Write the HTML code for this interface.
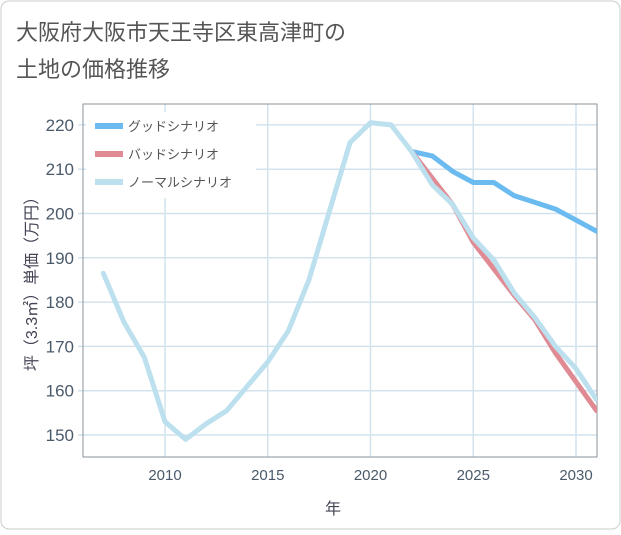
<!DOCTYPE html>
<html><head><meta charset="utf-8"><style>
body{margin:0;background:#fff;}
svg text{font-family:"Liberation Sans","Noto Sans CJK JP",sans-serif;}
</style></head><body>
<svg width="621" height="530" xmlns="http://www.w3.org/2000/svg">
<rect x="1" y="1" width="619" height="528" rx="8" fill="#fff" stroke="#ccc"/>
<text x="16" y="40" font-size="22" fill="#555">大阪府大阪市天王寺区東高津町の</text>
<text x="16" y="77" font-size="22" fill="#555">土地の価格推移</text>
<g id="grid"></g>
<rect x="83" y="104" width="514" height="353" fill="none" stroke="#8a939c"/>
<g id="series"></g>
<g id="axes"></g>
<g>
<rect x="86" y="112" width="170" height="86" fill="#fff"/>
<g><line x1="95" y1="126" x2="123" y2="126" stroke="#6bbbf0" stroke-width="6"/><text x="128" y="131" font-size="13" fill="#555">グッドシナリオ</text></g>
<g><line x1="95" y1="154" x2="123" y2="154" stroke="#e08a93" stroke-width="6"/><text x="128" y="159" font-size="13" fill="#555">バッドシナリオ</text></g>
<g><line x1="95" y1="182" x2="123" y2="182" stroke="#bde0ef" stroke-width="6"/><text x="128" y="187" font-size="13" fill="#555">ノーマルシナリオ</text></g>
</g>
<text x="333" y="514" font-size="16" fill="#445" text-anchor="middle">年</text>
<text transform="translate(37,280) rotate(-90)" font-size="16" fill="#445" text-anchor="middle">坪（3.3㎡）単価（万円）</text>
</svg>
<script>
const normalYears=[2007,2008,2009,2010,2011,2012,2013,2014,2015,2016,2017,2018,2019,2020,2021,2022,2023,2024,2025,2026,2027,2028,2029,2030,2031];
const normalValues=[186.5,175.5,167.5,153,149,152.5,155.5,161,166.5,173.5,185,200.5,216,220.5,220,214,206.5,202,194.5,189.5,182,176.5,170,165,158];
const scenarioYears=[2022,2023,2024,2025,2026,2027,2028,2029,2030,2031];
const goodValues=[214,213,209.5,207,207,204,202.5,201,198.5,196];
const badValues=[214,208,202,193.5,187.5,181.5,176,168.5,162,155.5];
const xTicks=[2010,2015,2020,2025,2030];
const yTicks=[150,160,170,180,190,200,210,220];
const NS="http://www.w3.org/2000/svg";
const X=v=>165+(v-2010)*20.55;
const Y=v=>435-(v-150)*4.43;
const grid=document.getElementById('grid'),axes=document.getElementById('axes'),ser=document.getElementById('series');
function mk(tag,attrs,parent){const e=document.createElementNS(NS,tag);for(const k in attrs)e.setAttribute(k,attrs[k]);parent.appendChild(e);return e;}
xTicks.forEach(t=>{
 const l=mk('line',{x1:X(t),x2:X(t),y1:104,y2:457,stroke:'#d3e3ee','stroke-width':1.5},grid);
 
 
 const tx=mk('text',{x:X(t),y:480,'font-size':15,fill:'#4a5a6a','text-anchor':'middle'},axes);
 tx.textContent=t;
 
 
});
yTicks.forEach(t=>{
 const l=mk('line',{x1:78,x2:597,y1:Y(t),y2:Y(t),stroke:'#d3e3ee','stroke-width':1.5},grid);
 
 
 const tx=mk('text',{x:74,y:Y(t)+6,'font-size':17,fill:'#4a5a6a','text-anchor':'end'},axes);
 tx.textContent=t;
 
 
});
function line(xs,vs,color,name){
 const d=xs.map((x,i)=>(i?'L':'M')+X(x).toFixed(1)+','+Y(vs[i]).toFixed(1)).join('');
 const p=mk('path',{d:d,fill:'none',stroke:color,'stroke-width':5,'stroke-linejoin':'round','stroke-linecap':'round'},ser);
 
 
}
const clip=mk('clipPath',{id:'pc'},ser);mk('rect',{x:83,y:104,width:514,height:353},clip);
ser.setAttribute('clip-path','url(#pc)');
line(scenarioYears,goodValues,'#6bbbf0','good-scenario-line');
line(scenarioYears,badValues,'#e08a93','bad-scenario-line');
line(normalYears,normalValues,'#bde0ef','normal-scenario-line');
</script>
</body></html>
